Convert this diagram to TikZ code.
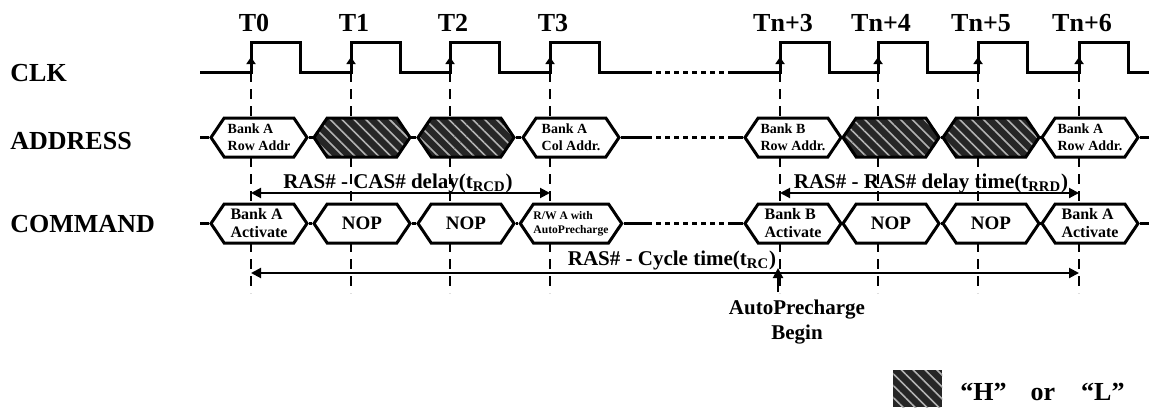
\documentclass[tikz,border=0pt]{standalone}
\usepackage{fontspec}
\setmainfont{Liberation Serif}
\usetikzlibrary{shapes.symbols,patterns.meta,arrows.meta}

\tikzset{
  senal/.style={line width=1.5pt},
  puntos/.style={line width=1.5pt, dash pattern=on 2.6pt off 1.9pt},
  guia/.style={line width=0.8pt, dash pattern=on 5pt off 3.5pt},
  flanco/.style={line width=1pt, -{Triangle[length=3.5pt,width=4.5pt]}},
  cota/.style={line width=1pt, {Triangle[length=5pt,width=5pt]}-{Triangle[length=5pt,width=5pt]}},
  relleno/.style={preaction={fill=black!85}, pattern={Lines[angle=-45,distance=4.2pt,line width=0.8pt]}, pattern color=black!30},
  celda/.style={signal, signal to=west and east, signal pointer angle=112, draw, line width=1.5pt,
    minimum width=48pt, minimum height=19.5pt, inner sep=0pt, align=left,
    font=\bfseries\fontsize{7}{8.5}\selectfont},
  blanca/.style={celda, fill=white},
  rayada/.style={celda, relleno},
  orden/.style={font=\bfseries\fontsize{8}{9}\selectfont},
  rotulo/.style={font=\bfseries\fontsize{13}{15}\selectfont, inner sep=0pt},
  medida/.style={font=\bfseries\fontsize{10.5}{12.5}\selectfont, inner sep=0pt},
}

\begin{document}
\begin{tikzpicture}[x=0.5pt,y=-0.5pt]
    \useasboundingbox (0,0) rectangle (1149,407);

    % Nombres de las senales
    \node[rotulo, anchor=west] (clk) at (10,73.5) {CLK};
    \node[rotulo, anchor=west] (addr) at (10,141) {ADDRESS};
    \node[rotulo, anchor=west] (cmd) at (10,224) {COMMAND};

    % Flancos de subida, lineas guia
    \foreach \x/\n/\t in {251/0/T0,351/1/T1,450/2/T2,550/3/T3,780/4/Tn+3,878/5/Tn+4,978/6/Tn+5,1079/7/Tn+6} {
        \coordinate (f\n) at (\x,72);
        \coordinate (g\n) at (\x,293);
        \node[rotulo, anchor=base] (t\n) at (\x+3,31) {\t};
        \draw[guia] (f\n) -- (g\n);
    }

    % Reloj
    \draw[senal] (200,72) \foreach \x in {251,351,450,550} { -- (\x,72) -- (\x,42) -- ++(49,0) -- ++(0,30) } -- (647,72);
    \draw[puntos] (647,72) -- (731,72);
    \draw[senal] (731,72) \foreach \x in {780,878,978,1079} { -- (\x,72) -- (\x,42) -- ++(49,0) -- ++(0,30) } -- (1149,72);
    \foreach \n in {0,...,7}
        \draw[flanco] (f\n) -- ++(0,-15);

    % Bus de direcciones
    \node[blanca] (a1) at (259,137.5) {Bank A\\Row Addr};
    \node[rayada] (a2) at (362,137.5) {};
    \node[rayada] (a3) at (466,137.5) {};
    \node[blanca] (a4) at (571,137.5) {Bank A\\Col Addr.};
    \node[blanca] (a5) at (793,137.5) {Bank B\\Row Addr.};
    \node[rayada] (a6) at (891,137.5) {};
    \node[rayada] (a7) at (991,137.5) {};
    \node[blanca] (a8) at (1090,137.5) {Bank A\\Row Addr.};

    % Comandos
    \node[blanca, orden] (c1) at (259,223.5) {Bank A\\Activate};
    \node[blanca, font=\bfseries\fontsize{9.5}{11}\selectfont] (c2) at (362,223.5) {NOP};
    \node[blanca, font=\bfseries\fontsize{9.5}{11}\selectfont] (c3) at (466,223.5) {NOP};
    \node[blanca, font=\bfseries\fontsize{5.8}{6.8}\selectfont] (c4) at (571,223.5) {R/W A with\\AutoPrecharge};
    \node[blanca, orden] (c5) at (793,223.5) {Bank B\\Activate};
    \node[blanca, font=\bfseries\fontsize{9.5}{11}\selectfont] (c6) at (891,223.5) {NOP};
    \node[blanca, font=\bfseries\fontsize{9.5}{11}\selectfont] (c7) at (991,223.5) {NOP};
    \node[blanca, orden] (c8) at (1090,223.5) {Bank A\\Activate};

    % Tramos entre celdas
    \foreach \f/\y in {a/137.5,c/223.5} {
        \coordinate (\f0) at (200,\y);
        \coordinate (\f p) at (647,\y);
        \coordinate (\f q) at (731,\y);
        \coordinate (\f9) at (1149,\y);
        \draw[senal] (\f0) -- (\f1.west);
        \draw[senal] (\f4.east) -- (\f p);
        \draw[puntos] (\f p) -- (\f q);
        \draw[senal] (\f q) -- (\f5.west);
        \draw[senal] (\f8.east) -- (\f9);
        \foreach \i/\j in {1/2,2/3,3/4,5/6,6/7,7/8}
            \draw[senal] (\f\i.east) -- (\f\j.west);
    }

    % Tiempos
    \coordinate (rcdL) at (251,193);
    \coordinate (rcdR) at (550,193);
    \draw[cota] (rcdL) -- (rcdR);
    \node[medida, anchor=base] (rcd) at (398,188) {RAS\# - CAS\# delay(t\textsubscript{RCD})};

    \coordinate (rrdL) at (780,193);
    \coordinate (rrdR) at (1079,193);
    \draw[cota] (rrdL) -- (rrdR);
    \node[medida, anchor=base] (rrd) at (931,188) {RAS\# - RAS\# delay time(t\textsubscript{RRD})};

    \coordinate (rcL) at (251,273);
    \coordinate (rcR) at (1079,273);
    \draw[cota] (rcL) -- (rcR);
    \node[medida, anchor=base] (rc) at (672,265) {RAS\# - Cycle time(t\textsubscript{RC})};

    % Inicio del AutoPrecharge
    \coordinate (apPie) at (778,292);
    \coordinate (apPunta) at (778,268);
    \draw[line width=1pt, -{Triangle[length=5pt,width=5pt]}] (apPie) -- (apPunta);
    \node[medida, align=center, anchor=north] (ap) at (797,300) {AutoPrecharge\\Begin};

    % Leyenda
    \node[relleno, minimum width=24.5pt, minimum height=18.5pt, inner sep=0pt, anchor=north west] (clave) at (893,370) {};
    \node[rotulo, anchor=base west] (clavetxt) at (960,400) {``H''\hspace{12pt}or\hspace{13pt}``L''};

\end{tikzpicture}
\end{document}
